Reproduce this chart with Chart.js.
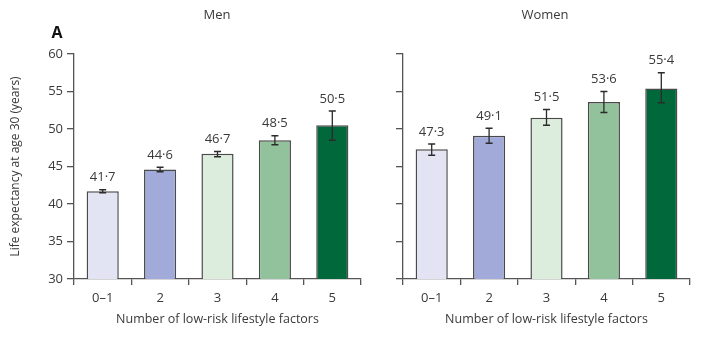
<!DOCTYPE html>
<html>
<head>
<meta charset="utf-8">
<script src="https://cdn.jsdelivr.net/npm/chart.js@4.4.1/dist/chart.umd.min.js"></script>
<style>
  html, body { margin: 0; padding: 0; background: #fff; }
  #wrap { position: relative; width: 709px; height: 339px; }
  #wrap div { position: absolute; top: 0; height: 339px; }
</style>
</head>
<body>
<div id="wrap">
  <div style="left:0; width:370px;"><canvas id="graficoHomens"></canvas></div>
  <div style="left:370px; width:339px;"><canvas id="graficoMulheres"></canvas></div>
</div>
<script>
const categorias = ['0–1', '2', '3', '4', '5'];

const homensValores = [41.7, 44.6, 46.7, 48.5, 50.5];
const homensInferior = [41.5, 44.3, 46.3, 47.9, 48.5];
const homensSuperior = [41.9, 44.9, 47.0, 49.1, 52.4];

const mulheresValores = [47.3, 49.1, 51.5, 53.6, 55.4];
const mulheresInferior = [46.5, 48.1, 50.5, 52.2, 53.5];
const mulheresSuperior = [48.0, 50.1, 52.6, 55.0, 57.5];

const coresBarras = ['#e2e4f4', '#a2aad9', '#dcecdd', '#92c29b', '#00683a'];

const FONTE = "'Open Sans', 'Noto Sans', sans-serif";
const COR_TEXTO = '#3a3a3a';
const COR_EIXO = '#555';

Chart.defaults.font.family = FONTE;
Chart.defaults.color = COR_TEXTO;

// barras de erro + rotulo com o valor acima de cada barra
const pluginErro = {
    id: 'barrasErro',
    afterDatasetsDraw(chart, args, opts) {
        const { ctx } = chart;
        const y = chart.scales.y;
        const meta = chart.getDatasetMeta(0);
        ctx.save();
        meta.data.forEach((barra, i) => {
            const x = barra.x;
            const topo = y.getPixelForValue(opts.superior[i]);
            const base = y.getPixelForValue(opts.inferior[i]);
            ctx.strokeStyle = '#2b2b2b';
            ctx.lineWidth = 1.3;
            ctx.beginPath();
            ctx.moveTo(x, topo); ctx.lineTo(x, base);
            ctx.moveTo(x - 3.5, topo); ctx.lineTo(x + 3.5, topo);
            ctx.moveTo(x - 3.5, base); ctx.lineTo(x + 3.5, base);
            ctx.stroke();

            const valor = chart.data.datasets[0].data[i];
            ctx.fillStyle = COR_TEXTO;
            ctx.font = `13px ${FONTE}`;
            ctx.textAlign = 'center';
            ctx.textBaseline = 'middle';
            ctx.fillText(valor.toFixed(1).replace('.', '·'), x, topo - 12);
        });
        ctx.restore();
    }
};

// titulo do painel e letra do painel
const pluginTitulo = {
    id: 'tituloPainel',
    afterDraw(chart, args, opts) {
        const { ctx } = chart;
        ctx.save();
        ctx.fillStyle = COR_TEXTO;
        ctx.textAlign = 'center';
        ctx.textBaseline = 'middle';
        ctx.font = `13px ${FONTE}`;
        ctx.fillText(opts.texto, opts.x, 15);
        if (opts.letra) {
            ctx.fillStyle = '#111';
            ctx.font = `bold 16px ${FONTE}`;
            ctx.fillText(opts.letra, 57, 33);
        }
        ctx.restore();
    }
};

function criarGrafico(id, valores, inferior, superior, config) {
    const ctx = document.getElementById(id).getContext('2d');
    return new Chart(ctx, {
        type: 'bar',
        data: {
            labels: categorias,
            datasets: [{
                data: valores,
                backgroundColor: coresBarras,
                borderColor: '#4a4a4a',
                borderWidth: 1.5,
                borderSkipped: false,
                categoryPercentage: 1,
                barPercentage: 0.56
            }]
        },
        options: {
            responsive: true,
            maintainAspectRatio: false,
            animation: false,
            layout: { padding: { top: 54, right: config.direita, bottom: 0, left: 0 } },
            plugins: {
                legend: { display: false },
                tooltip: { enabled: false },
                barrasErro: { inferior: inferior, superior: superior },
                tituloPainel: { texto: config.titulo, x: config.tituloX, letra: config.letra }
            },
            scales: {
                x: {
                    offset: true,
                    afterFit: (s) => { s.height = 60; },
                    grid: {
                        offset: true,
                        drawOnChartArea: false,
                        drawTicks: true,
                        tickLength: 6,
                        color: COR_EIXO,
                        lineWidth: 1.3
                    },
                    border: { color: COR_EIXO, width: 1.3 },
                    ticks: { font: { size: 13 }, color: COR_TEXTO, padding: 5 },
                    title: {
                        display: true,
                        text: 'Number of low-risk lifestyle factors',
                        font: { size: 12.5 },
                        color: COR_TEXTO,
                        padding: { top: 0, bottom: 12 }
                    }
                },
                y: {
                    min: 30,
                    max: 60,
                    afterFit: (s) => { s.width = config.larguraY; },
                    grid: {
                        drawOnChartArea: false,
                        drawTicks: true,
                        tickLength: 7,
                        color: COR_EIXO,
                        lineWidth: 1.3
                    },
                    border: { color: COR_EIXO, width: 1.3 },
                    ticks: {
                        display: config.mostrarY,
                        stepSize: 5,
                        font: { size: 13 },
                        color: COR_TEXTO,
                        padding: 4
                    },
                    title: {
                        display: config.mostrarY,
                        text: 'Life expectancy at age 30 (years)',
                        font: { size: 12 },
                        color: COR_TEXTO,
                        padding: { top: 8, bottom: 0 }
                    }
                }
            }
        },
        plugins: [pluginErro, pluginTitulo]
    });
}

criarGrafico('graficoHomens', homensValores, homensInferior, homensSuperior, {
    titulo: 'Men', tituloX: 217, letra: 'A', larguraY: 74, direita: 9, mostrarY: true
});

criarGrafico('graficoMulheres', mulheresValores, mulheresInferior, mulheresSuperior, {
    titulo: 'Women', tituloX: 175, letra: null, larguraY: 33, direita: 19, mostrarY: false
});
</script>
</body>
</html>
